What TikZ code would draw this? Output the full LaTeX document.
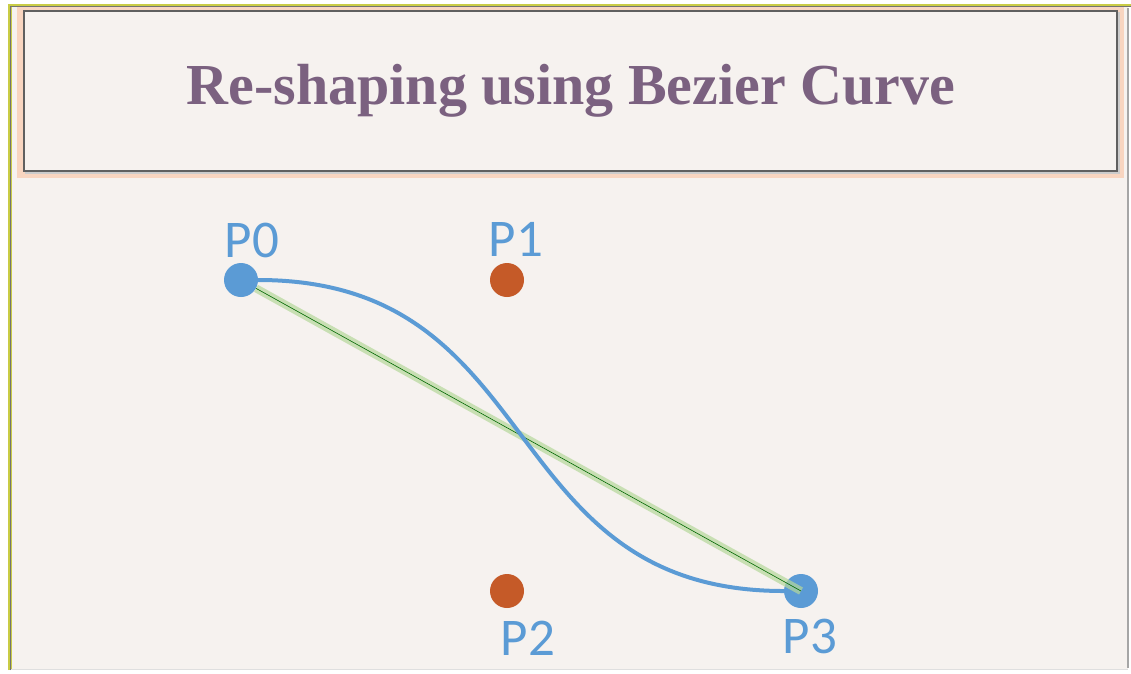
\documentclass[tikz,border=0pt]{standalone}
\usepackage{fontspec}
\setmainfont{Liberation Serif}
\newfontfamily\labfont{Carlito}
\begin{document}
\begin{tikzpicture}[x=1pt,y=-1pt,
  bluept/.style={circle,fill=ptblue,minimum size=34pt,inner sep=0pt},
  orangept/.style={circle,fill=ptorange,minimum size=34pt,inner sep=0pt},
  ptlabel/.style={text=ptblue,font=\labfont\fontsize{53}{53}\selectfont,inner sep=0pt},
  titletext/.style={text=titlepurple,font=\fontsize{58}{58}\selectfont\bfseries,inner sep=0pt}]
\definecolor{bgcol}{HTML}{F6F2EF}
\definecolor{ptblue}{HTML}{5B9BD5}
\definecolor{ptorange}{HTML}{C55A28}
\definecolor{titlepurple}{HTML}{7B6180}
\definecolor{glow}{HTML}{F8D5C0}
\definecolor{framey}{HTML}{C9CC45}
\definecolor{greenglow}{HTML}{B5D89A}
% background and margins
\useasboundingbox (0,0) rectangle (1131,673);
\fill[white] (0,0) rectangle (1131,673);
\fill[bgcol] (10,6) rectangle (1128,669);
% title box
\fill[bgcol] (24,11) rectangle (1117,171);
\draw[glow,line width=7pt] (20.5,7.5) rectangle (1120.5,174.5);
\draw[gray!75!black,line width=1.6pt] (24,11) rectangle (1117,171);
\draw[gray!40,line width=1.2pt] (25,173) -- (1119,173) -- (1119,12);
\node[titletext] (title) at (571,91) {Re-shaping using Bezier Curve};
% outer frame
\draw[framey,line width=3.5pt] (10,670) -- (10,5.5) -- (1131,5.5);
\draw[black!55,line width=0.7pt] (10.5,670) -- (10.5,6.5) -- (1131,6.5);
\draw[gray!70,line width=1.2pt] (1128,8) -- (1128,668);
\draw[gray!25,line width=1pt] (11,669) -- (1128,669);
% points
\node[bluept] (P0) at (241,280) {};
\node[orangept] (P1) at (507,280) {};
\node[orangept] (P2) at (507,591) {};
\node[bluept] (P3) at (801,591) {};
\node[ptlabel] (L0) at (252,240) {P0};
\node[ptlabel] (L1) at (516,239) {P1};
\node[ptlabel] (L2) at (528,638) {P2};
\node[ptlabel] (L3) at (810,636) {P3};
\coordinate (c1) at (550,280);
\coordinate (c2) at (493,591);
% straight line with glow
\draw[greenglow,line width=8pt,opacity=0.7] (P0) -- (P3.center);
\draw[black!60!green,line width=0.6pt] (P0) -- (P3.center);
% bezier curve
\draw[ptblue,line width=4pt] (P0.east) .. controls (c1) and (c2) .. (P3.west);
\end{tikzpicture}
\end{document}
